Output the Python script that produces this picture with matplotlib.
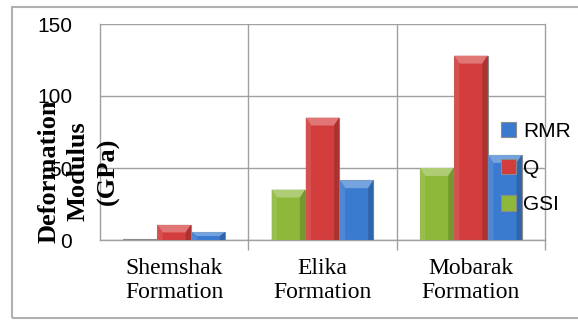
import matplotlib.pyplot as plt
from matplotlib.patches import Rectangle, Polygon
import matplotlib.colors as mcolors
import numpy as np

# deformation modulus (GPa) by formation and method
formations = ['Shemshak\nFormation', 'Elika\nFormation', 'Mobarak\nFormation']
gsi = [0.5, 35, 50]
q = [10.5, 85, 128]
rmr = [5.5, 41.5, 59]

c_gsi = '#8db83a'
c_q = '#d23c3c'
c_rmr = '#3a7bd0'


def shade(c, f):
    r = np.array(mcolors.to_rgb(c))
    if f > 0:
        return tuple(r + (1 - r) * f)
    return tuple(r * (1 + f))


def bevel(ax, bars, color):
    # lighter cap and side strips to give the bars a raised look
    for r in bars:
        x0, w, h = r.get_x(), r.get_width(), r.get_height()
        x1 = x0 + w
        if h < 2:
            continue
        b = min(5.5, h / 2)
        d = 0.035
        ax.add_patch(Polygon([(x0, h), (x1, h), (x1 - d, h - b), (x0 + d, h - b)],
                             closed=True, color=shade(color, 0.3), lw=0, zorder=4))
        ax.add_patch(Polygon([(x0, 0), (x0, h), (x0 + d, h - b), (x0 + d, 0)],
                             closed=True, color=shade(color, 0.1), lw=0, zorder=4))
        ax.add_patch(Polygon([(x1, 0), (x1, h), (x1 - d, h - b), (x1 - d, 0)],
                             closed=True, color=shade(color, -0.18), lw=0, zorder=4))


fig = plt.figure(figsize=(5.78, 3.2), dpi=100)
ax = fig.add_axes([0.173, 0.25, 0.77, 0.675])

x = np.arange(len(formations))
w = 0.225
b1 = ax.bar(x - 0.23, gsi, w, color=c_gsi, edgecolor='#8a8a8a', linewidth=0.8, label='GSI', zorder=3)
b2 = ax.bar(x, q, w, color=c_q, edgecolor='#8a8a8a', linewidth=0.8, label='Q', zorder=3)
b3 = ax.bar(x + 0.23, rmr, w, color=c_rmr, edgecolor='#8a8a8a', linewidth=0.8, label='RMR', zorder=3)
bevel(ax, b1, c_gsi)
bevel(ax, b2, c_q)
bevel(ax, b3, c_rmr)

ax.set_xlim(-0.5, 2.5)
ax.set_ylim(0, 150)
ax.set_yticks([0, 50, 100, 150])
ax.set_xticks(x)
ax.set_xticklabels(formations, family='Liberation Serif', fontsize=17, linespacing=1.2)
ax.set_xticks([0.5, 1.5, 2.5], minor=True)
ax.tick_params(axis='x', which='major', length=0, pad=13)
ax.tick_params(axis='x', which='minor', length=7, color='#a0a0a0', width=1)
ax.tick_params(axis='y', length=0, pad=20, labelsize=15)
for t in ax.get_yticklabels():
    t.set_family('Liberation Sans')

ax.grid(axis='y', color='#a0a0a0', linewidth=1, zorder=0)
for xv in [0.5, 1.5]:
    ax.axvline(xv, color='#a0a0a0', linewidth=1, zorder=0)
ax.spines['top'].set_visible(False)
for s in ['left', 'bottom', 'right']:
    ax.spines[s].set_color('#a0a0a0')
    ax.spines[s].set_linewidth(1)

fig.text(0.136, 0.465, 'Deformation\nModulus\n(GPa)', rotation=90, ha='center', va='center',
         family='Liberation Serif', fontweight='bold', fontsize=19, linespacing=1.35)

handles = [b3, b2, b1]
fig.legend(handles, ['RMR', 'Q', 'GSI'], loc='center left', bbox_to_anchor=(0.848, 0.475),
           frameon=False, prop={'family': 'Liberation Sans', 'size': 15},
           handlelength=0.75, handleheight=0.75, handletextpad=0.35, labelspacing=0.85,
           borderpad=0)

fig.patches.append(Rectangle((0.021, 0.006), 1.2, 0.972, transform=fig.transFigure,
                             fill=False, edgecolor='#b0b0b0', linewidth=1.5))

fig.savefig('out.png', dpi=100)
